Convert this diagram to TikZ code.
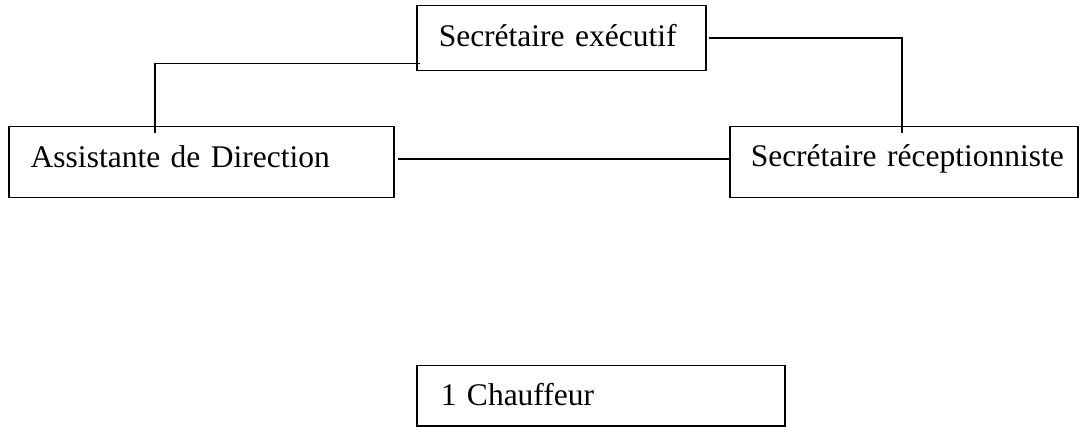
\documentclass[tikz,border=0pt]{standalone}
\usepackage{fontspec}
\setmainfont{Liberation Serif}
\begin{document}
\begin{tikzpicture}[x=1pt,y=-1pt,
  orgbox/.style={draw, line width=1.5pt, inner sep=0pt, anchor=north west,
    align=left, font=\fontsize{31.5}{36}\selectfont},
  link/.style={line width=1.5pt}]
\useasboundingbox (0,0) rectangle (1079,427);
\node[orgbox, minimum width=289pt, text height=41pt, text depth=24pt, text width=289pt] (exec) at (416,5) {\hspace*{22pt}Secrétaire exécutif};
\node[orgbox, minimum width=385pt, text height=41pt, text depth=30pt, text width=385pt] (assist) at (8,126) {\hspace*{22pt}Assistante de Direction};
\node[orgbox, minimum width=348pt, text height=40pt, text depth=31pt, text width=348pt] (recep) at (729,126) {\hspace*{21pt}Secrétaire réceptionniste};
\node[orgbox, minimum width=368pt, text height=40pt, text depth=20pt, text width=368pt] (chauf) at (416,365) {\hspace*{24pt}1 Chauffeur};
\draw[link] ([shift={(4pt,8pt)}]exec.south west) -| ([shift={(147pt,-7pt)}]assist.north west);
\draw[link] ([shift={(2pt,-33pt)}]exec.north east) -| ([shift={(173pt,-7pt)}]recep.north west);
\draw[link] ([shift={(3pt,3pt)}]assist.east) -- ([shift={(2pt,3pt)}]recep.west);
\end{tikzpicture}
\end{document}
